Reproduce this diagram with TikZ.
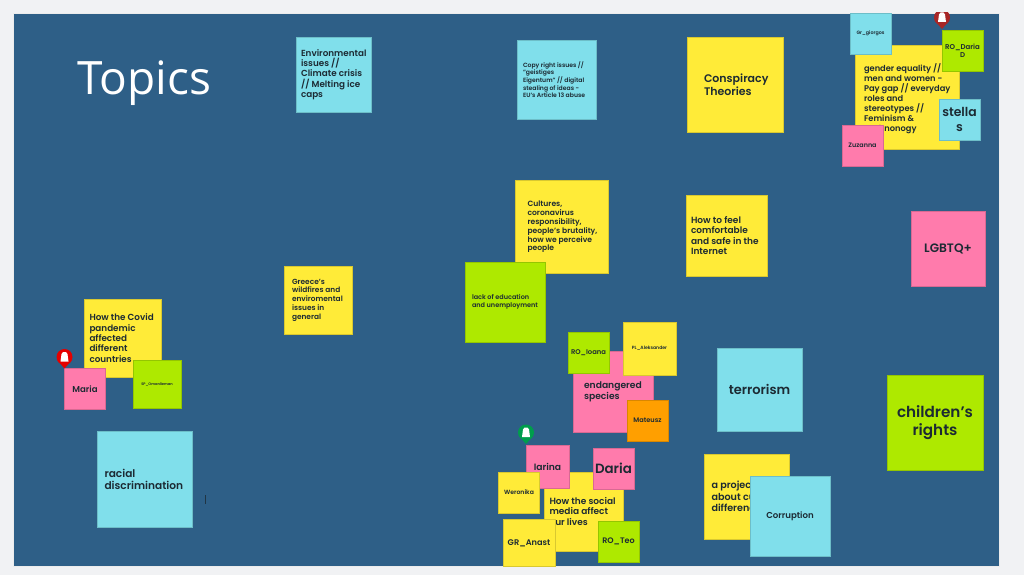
\documentclass[tikz,border=0pt]{standalone}
\usepackage{fontspec}
\setmainfont{Poppins SemiBold}
\newfontfamily\titlefont{Open Sans}
\definecolor{pagebg}{HTML}{F1F2F4}
\definecolor{board}{HTML}{2E5F87}
\definecolor{noteY}{HTML}{FFEB38}
\definecolor{noteC}{HTML}{80DFEB}
\definecolor{noteG}{HTML}{AEE900}
\definecolor{noteP}{HTML}{FF7BAC}
\definecolor{noteO}{HTML}{FF9F00}
\definecolor{ink}{HTML}{1C2A33}
\tikzset{
  notebox/.style={draw=#1!85!black,line width=.6pt,fill=#1,text=ink,inner ysep=0pt,outer sep=0pt,anchor=center},
}
% name x0 y0 x1 y1 colour size pad text (left aligned)
\newcommand{\noteL}[9]{%
  \pgfmathsetmacro{\cxx}{(#2+#4)/2}\pgfmathsetmacro{\cyy}{(#3+#5)/2}%
  \pgfmathsetmacro{\ww}{#4-#2}\pgfmathsetmacro{\hh}{#5-#3}%
  \pgfmathsetmacro{\ls}{#7*1.18}%
  \node[notebox=#6,minimum width=\ww pt,minimum height=\hh pt,inner xsep=0pt,align=left] (#1) at (\cxx,\cyy)
    {\begin{minipage}{\ww pt}\raggedright\leftskip=#8pt\fontsize{#7}{\ls}\selectfont #9\par\end{minipage}};%
}
% name x0 y0 x1 y1 colour size text (centred)
\newcommand{\noteC}[8]{%
  \pgfmathsetmacro{\cxx}{(#2+#4)/2}\pgfmathsetmacro{\cyy}{(#3+#5)/2}%
  \pgfmathsetmacro{\ww}{#4-#2}\pgfmathsetmacro{\hh}{#5-#3}%
  \pgfmathsetmacro{\ls}{#7*1.15}%
  \node[notebox=#6,minimum width=\ww pt,minimum height=\hh pt,inner xsep=0pt,align=center,text width=\ww pt] (#1) at (\cxx,\cyy)
    {\fontsize{#7}{\ls}\selectfont #8\par};%
}
\newcommand{\pinmark}[3]{%
  \fill[#1] (#2,#3) circle[radius=8];
  \fill[#1] (#2-7,#3+3.5) -- (#2,#3+11.5) -- (#2+7,#3+3.5) -- cycle;
  \fill[white] (#2-4,#3+4.5) -- (#2-3,#3-3) -- (#2-1.5,#3-5) -- (#2+1.5,#3-5) -- (#2+3,#3-3) -- (#2+4,#3+4.5) -- cycle;
}
\begin{document}
\begin{tikzpicture}[x=1pt,y=-1pt]
\useasboundingbox (0,0) rectangle (1024,575);
\fill[pagebg] (0,0) rectangle (1024,575);
\fill[board,draw=white!85!gray,line width=.8pt] (13.5,13) rectangle (999.5,566.5);
\node[text=white,font=\titlefont,inner sep=0pt] (title) at (144.5,83) {\fontsize{46}{50}\selectfont Topics};

\noteL{env}{296}{37}{371}{112}{noteC}{8.8}{5}{Environmental\\issues //\\Climate crisis\\// Melting ice\\caps}
\noteL{copy}{517}{40}{596}{119}{noteC}{6.1}{6}{Copy right issues //\\"geistiges\\Eigentum" // digital\\stealing of ideas -\\EU's Article 13 abuse}
\noteL{consp}{687}{37}{783}{132}{noteY}{11}{17}{Conspiracy\\Theories}
\noteL{gender}{855}{45}{959}{149}{noteY}{8.3}{9}{\vspace*{3.4pt}\baselineskip=9.9pt gender equality //\\men and women -\\Pay gap // everyday\\roles and\\stereotypes //\\Feminism \&\\Technonogy}
\noteC{giorgos}{850}{13}{891}{54}{noteC}{4.8}{Gr\_giorgos}
\noteC{daria}{942}{30}{983}{71}{noteG}{7}{RO\_Daria\\D}
\noteC{stellas}{939}{99}{980}{140}{noteC}{12.4}{stella\\s}
\noteC{zuzanna}{842}{125}{883}{166}{noteP}{6.4}{Zuzanna}
\noteC{lgbtq}{911}{211}{985}{286}{noteP}{12.2}{LGBTQ+}
\noteL{feel}{686}{195}{767}{276}{noteY}{9}{5}{How to feel\\comfortable\\and safe in the\\Internet}
\noteL{cultures}{515.5}{180.5}{608}{273}{noteY}{7.6}{12}{Cultures,\\coronavirus\\responsibility,\\people's brutality,\\how we perceive\\people}
\noteL{lack}{465}{262}{545}{342}{noteG}{6.5}{7}{lack of education\\and unemployment}
\noteL{greece}{284}{266}{352}{334}{noteY}{7.4}{8}{Greece's\\wildfires and\\enviromental\\issues in\\general}
\noteL{covid}{84}{299}{161}{377}{noteY}{8.8}{5.5}{How the Covid\\pandemic\\affected\\different\\countries}
\noteC{maria}{64.5}{368.5}{105.5}{409}{noteP}{8.6}{Maria}
\noteC{sp}{133}{360}{181}{408}{noteG}{3.6}{SP\_Omanlieman}
\noteL{racial}{97}{431.5}{192.5}{527}{noteC}{10.6}{7.5}{racial\\discrimination}
\noteL{species}{573}{351.5}{653}{432}{noteP}{9.2}{11}{endangered\\species}
\noteC{ioana}{568}{332}{609}{373}{noteG}{6.8}{RO\_Ioana}
\noteC{aleks}{623}{322}{676}{375}{noteY}{4.6}{PL\_Aleksander}
\noteC{mateusz}{627}{400}{668}{441}{noteO}{6.6}{Mateusz}
\noteC{terror}{717}{348}{802}{431}{noteC}{13}{terrorism}
\noteC{child}{887}{375}{983}{470}{noteG}{15.2}{children's\\rights}
\noteL{social}{544}{472}{623}{551}{noteY}{9}{5.5}{How the social\\media affect\\our lives}
\noteC{iarina}{526}{445}{569}{488}{noteP}{9.2}{Iarina}
\noteC{dariab}{593}{448}{634}{489}{noteP}{13.4}{Daria}
\noteC{wero}{498.5}{472}{539.5}{513}{noteY}{6.1}{Weronika}
\noteC{anast}{503}{519.5}{555}{566.5}{noteY}{8.2}{GR\_Anast}
\noteC{teo}{598}{521.5}{639}{562}{noteG}{8}{RO\_Teo}
\noteL{project}{704}{454}{789}{539}{noteY}{9.6}{7.5}{a project\\about cultural\\differences}
\noteC{corrupt}{750}{476}{830}{556}{noteC}{8.6}{Corruption}

\pinmark{red!90!black}{64.5}{357}
\pinmark{green!45!black!70!cyan}{526}{432.5}
\begin{scope}
\clip (14,13) rectangle (999.5,566.5);
\pinmark{red!60!black!85!white}{942}{17.5}
\end{scope}
\fill[ink!80!board] (204.6,495) rectangle (205.6,504);
\end{tikzpicture}
\end{document}
